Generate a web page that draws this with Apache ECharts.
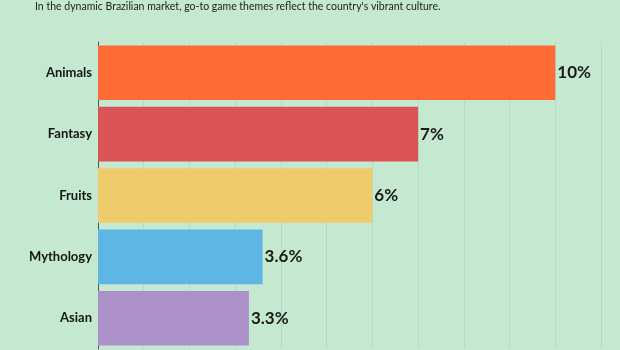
<!DOCTYPE html>
<html>
<head>
<meta charset="utf-8">
<script src="https://cdn.jsdelivr.net/npm/echarts@6/dist/echarts.min.js"></script>
<style>
  html, body { margin: 0; padding: 0; background: #c5e9d0; }
  #chart { width: 620px; height: 350px; }
</style>
</head>
<body>
<div id="chart"></div>
<script>
// Popular slot game themes in Brazil (share, %)
const themes = ['Animals', 'Fantasy', 'Fruits', 'Mythology', 'Asian'];
const shares = [10, 7, 6, 3.6, 3.3];
const barColors = ['#ff6b37', '#d95357', '#f0cb6b', '#5eb6e4', '#ab91c8'];
const subtitle = "In the dynamic Brazilian market, go-to game themes reflect the country's vibrant culture.";

const chart = echarts.init(document.getElementById('chart'));
chart.setOption({
  backgroundColor: '#c5e9d0',
  animation: false,
  graphic: [{
    type: 'text',
    left: 35,
    top: 1,
    style: {
      text: subtitle,
      font: 'normal 10.5px Lato',
      fill: '#222'
    }
  }],
  grid: { left: 98, right: 19, top: 42, bottom: 1, containLabel: false },
  xAxis: {
    type: 'value',
    min: 0,
    max: 11,
    interval: 1,
    axisLabel: { show: false },
    axisLine: { show: false },
    axisTick: { show: false },
    splitLine: { show: true, lineStyle: { color: '#b3dcc0', width: 1 } }
  },
  yAxis: {
    type: 'category',
    data: themes,
    inverse: true,
    axisTick: { show: false },
    axisLine: { show: true, lineStyle: { color: '#555', width: 1 } },
    axisLabel: {
      margin: 6,
      fontFamily: 'Lato',
      fontSize: 13,
      fontWeight: 'bold',
      color: '#151515'
    }
  },
  series: [{
    type: 'bar',
    data: shares.map((v, i) => ({ value: v, itemStyle: { color: barColors[i] } })),
    barCategoryGap: '11%',
    label: {
      show: true,
      position: 'right',
      distance: 2,
      formatter: p => p.value + '%',
      fontFamily: 'Lato',
      fontSize: 17,
      fontWeight: 'bold',
      color: '#1a1a1a'
    }
  }]
});
</script>
</body>
</html>
